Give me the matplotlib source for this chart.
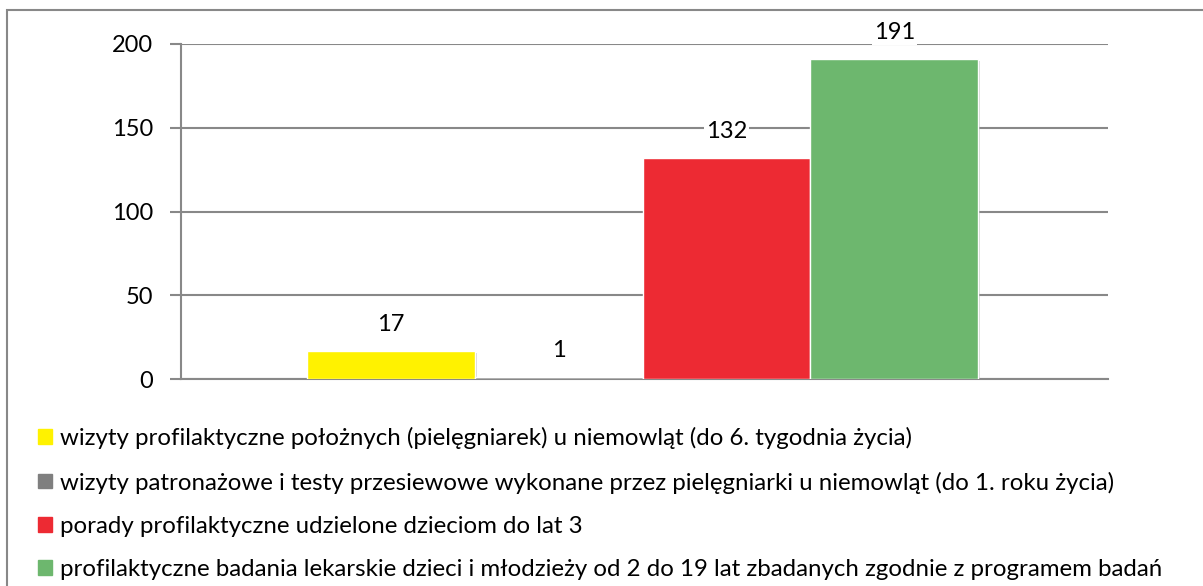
import matplotlib.pyplot as plt
import matplotlib.patheffects as pe
from matplotlib.patches import Rectangle

plt.rcParams['font.family'] = ['Lato', 'DejaVu Sans']

# dane
labels = ['wizyty profilaktyczne położnych (pielęgniarek) u niemowląt (do 6. tygodnia życia)',
          'wizyty patronażowe i testy przesiewowe wykonane przez pielęgniarki u niemowląt (do 1. roku życia)',
          'porady profilaktyczne udzielone dzieciom do lat 3',
          'profilaktyczne badania lekarskie dzieci i młodzieży od 2 do 19 lat zbadanych zgodnie z programem badań']
values = [17, 1, 132, 191]
colors = ['#FFF200', '#7F7F7F', '#ED2A33', '#6DB76E']
yticks = [0, 50, 100, 150, 200]

W, H = 1203, 586
fig = plt.figure(figsize=(W / 100, H / 100), dpi=100)

# ramka wykresu
fig.patches.append(Rectangle((7 / W, -0.1), 1.2, 1 - 10 / H + 0.1, transform=fig.transFigure,
                             fill=False, edgecolor='#888888', linewidth=1.5))

ax = fig.add_axes([181 / W, 1 - 379 / H, (1108 - 181) / W, (379 - 44) / H])

bw = 0.181
xs = [(i - 1.5) * bw - 0.002 for i in range(4)]
for x, v, c in zip(xs, values, colors):
    b = ax.bar(x, v, width=bw, color=c, edgecolor='white', linewidth=1, zorder=3)
    b[0].set_path_effects([pe.SimplePatchShadow(offset=(1.5, -1.5), shadow_rgbFace='#999999', alpha=0.4),
                           pe.Normal()])
    ax.annotate(str(v), (x, v), xytext=(0, 19), textcoords='offset points', ha='center', va='center',
                fontsize=17, color='black', zorder=4,
                bbox=dict(facecolor='white', edgecolor='none', pad=1.5))

ax.set_xlim(-0.5, 0.5)
ax.set_ylim(0, 200)
ax.set_yticks(yticks)
ax.set_yticklabels([str(t) for t in yticks], fontsize=17)
ax.set_xticks([])
ax.grid(axis='y', color='#888888', linewidth=1.5, zorder=0)
for s in ['top', 'right']:
    ax.spines[s].set_visible(False)
for s in ['left', 'bottom']:
    ax.spines[s].set_color('#888888')
    ax.spines[s].set_linewidth(1.5)
ax.tick_params(axis='y', length=8, width=1.5, color='#888888', pad=12)

handles = [Rectangle((0, 0), 1, 1, color=c) for c in colors]
fig.legend(handles, labels, loc='upper left', bbox_to_anchor=(38 / W, 1 - 427 / H),
           frameon=False, fontsize=17.3, handlelength=0.57, handleheight=0.57, handletextpad=0.36,
           labelspacing=0.93, borderpad=0, borderaxespad=0)

fig.savefig('out.png', dpi=100)
